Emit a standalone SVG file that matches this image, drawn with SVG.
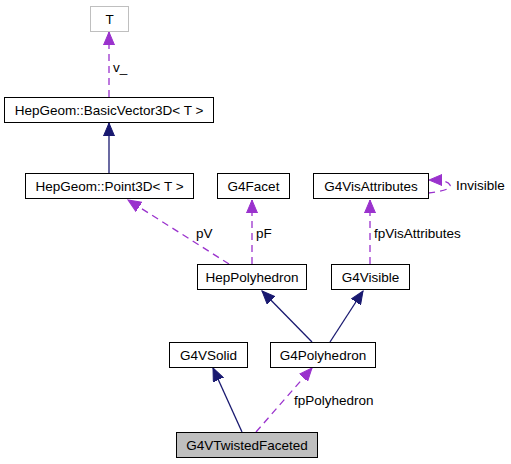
<svg xmlns="http://www.w3.org/2000/svg" width="511" height="464" viewBox="0 0 511 464">
<style>
.box{fill:#fff;stroke:#000;stroke-width:1}
.t{font-family:"Liberation Sans",Arial,sans-serif;font-size:13.5px;fill:#000;text-anchor:middle}
.l{font-family:"Liberation Sans",Arial,sans-serif;font-size:13.5px;fill:#000}
.inh{fill:none;stroke:#191970;stroke-width:1.3}
.use{fill:none;stroke:#9a32cd;stroke-width:1.3;stroke-dasharray:7,5}
</style>
<defs>
<marker id="an" markerUnits="userSpaceOnUse" markerWidth="14" markerHeight="12" refX="13" refY="6" orient="auto" viewBox="0 0 14 12">
<path d="M0,0.5 L13,6 L0,11.5 Z" fill="#191970" stroke="#191970"/>
</marker>
<marker id="ap" markerUnits="userSpaceOnUse" markerWidth="14" markerHeight="12" refX="13" refY="6" orient="auto" viewBox="0 0 14 12">
<path d="M0,0.5 L13,6 L0,11.5 Z" fill="#9a32cd" stroke="#9a32cd"/>
</marker>
</defs>
<g id="connectors">
<path class="use" d="M109,97 L109,32" marker-end="url(#ap)"/>
<path class="inh" d="M109,173 L109,123" marker-end="url(#an)"/>
<path class="use" d="M229,264 L128,200" marker-end="url(#ap)"/>
<path class="use" d="M252,264 L252,200" marker-end="url(#ap)"/>
<path class="use" d="M370,264 L370,200" marker-end="url(#ap)"/>
<path class="use" d="M428,193 C440,192 452,189 450,185 C448,181 440,180 429,180" marker-end="url(#ap)"/>
<path class="inh" d="M312,342 L262,291" marker-end="url(#an)"/>
<path class="inh" d="M330,342 L363,291" marker-end="url(#an)"/>
<path class="inh" d="M242,432 L213,368" marker-end="url(#an)"/>
<path class="use" d="M256,432 L312,368" marker-end="url(#ap)"/>
<text class="l" x="113" y="72">v_</text>
<text class="l" x="196" y="238">pV</text>
<text class="l" x="256" y="238">pF</text>
<text class="l" x="374" y="238">fpVisAttributes</text>
<text class="l" x="456" y="190">Invisible</text>
<text class="l" x="294" y="405">fpPolyhedron</text>
</g>
<g id="T"><rect x="90.5" y="6.5" width="38" height="25" fill="#fff" stroke="#bfbfbf"/><text class="t" x="109.5" y="24">T</text></g>
<g id="BasicVector3D"><rect class="box" x="4.5" y="97.5" width="209" height="25"/><text class="t" x="109" y="115">HepGeom::BasicVector3D&lt; T &gt;</text></g>
<g id="Point3D"><rect class="box" x="25.5" y="173.5" width="168" height="25"/><text class="t" x="109.5" y="191">HepGeom::Point3D&lt; T &gt;</text></g>
<g id="G4Facet"><rect class="box" x="217.5" y="173.5" width="72" height="25"/><text class="t" x="253.5" y="191">G4Facet</text></g>
<g id="G4VisAttributes"><rect class="box" x="313.5" y="173.5" width="115" height="25"/><text class="t" x="371" y="191">G4VisAttributes</text></g>
<g id="HepPolyhedron"><rect class="box" x="197.5" y="264.5" width="109" height="25"/><text class="t" x="252" y="282">HepPolyhedron</text></g>
<g id="G4Visible"><rect class="box" x="331.5" y="264.5" width="78" height="25"/><text class="t" x="370.5" y="282">G4Visible</text></g>
<g id="G4VSolid"><rect class="box" x="169.5" y="342.5" width="78" height="25"/><text class="t" x="208.5" y="360">G4VSolid</text></g>
<g id="G4Polyhedron"><rect class="box" x="270.5" y="342.5" width="105" height="25"/><text class="t" x="323" y="360">G4Polyhedron</text></g>
<g id="G4VTwistedFaceted"><rect x="176.5" y="432.5" width="141" height="25" fill="#bfbfbf" stroke="#000"/><text class="t" x="247" y="450">G4VTwistedFaceted</text></g>
</svg>
